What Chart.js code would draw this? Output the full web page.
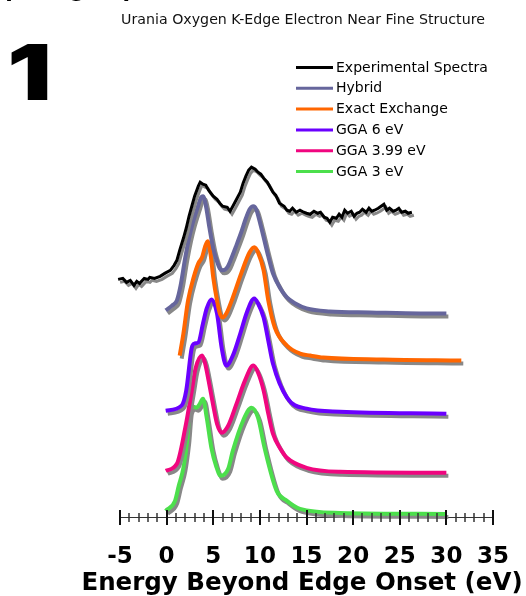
<!DOCTYPE html>
<html>
<head>
<meta charset="utf-8">
<script src="https://cdn.jsdelivr.net/npm/chart.js@4"></script>
<style>
  html, body { margin: 0; padding: 0; background: #fff; }
  canvas { display: block; }
</style>
</head>
<body>
<canvas id="myChart" width="526" height="596"></canvas>
<script>
// text
var topTitle = 'Comparing Experimental and Theoretical Results';
var subTitle = 'Urania Oxygen K-Edge Electron Near Fine Structure';
var energyLabel = 'Energy Beyond Edge Onset (eV)';
var panelNumber = '1';

var seriesNames = ['Experimental Spectra', 'Hybrid', 'Exact Exchange', 'GGA 6 eV', 'GGA 3.99 eV', 'GGA 3 eV'];
var seriesColors = ['#000000', '#66669c', '#ff6600', '#6a00ff', '#f0067f', '#4cdf4c'];
var majorTicks = [-5, 0, 5, 10, 15, 20, 25, 30, 35];

// energy (eV) and offset intensity
var expX = [-5.2, -4.7, -4.3, -3.9, -3.5, -3.2, -2.9, -2.4, -2.0, -1.8,
  -1.3, -0.7, -0.2, 0.4, 0.8, 1.1, 1.4, 1.8, 2.1, 2.4,
  2.7, 3.0, 3.4, 3.6, 3.9, 4.2, 4.5, 5.0, 5.4, 5.7,
  6.0, 6.5, 6.8, 7.1, 7.5, 7.9, 8.2, 8.5, 8.8, 9.1,
  9.5, 9.8, 10.1, 10.4, 10.8, 11.1, 11.4, 11.7, 12.1, 12.6,
  12.9, 13.2, 13.5, 13.9, 14.3, 14.7, 15.0, 15.4, 15.8, 16.2,
  16.5, 16.9, 17.2, 17.5, 17.8, 18.2, 18.5, 18.8, 19.1, 19.4,
  19.8, 20.1, 20.4, 20.7, 21.0, 21.4, 21.7, 22.0, 22.3, 22.7,
  23.0, 23.3, 23.6, 23.9, 24.3, 24.6, 24.9, 25.2, 25.6, 25.9,
  26.3];
var expY = [24.1, 24.2, 23.8, 24.0, 23.5, 23.9, 23.7, 24.2, 24.1, 24.3,
  24.2, 24.4, 24.7, 25.0, 25.5, 26.0, 27.0, 28.2, 29.2, 30.4,
  31.4, 32.4, 33.4, 33.8, 33.6, 33.5, 33.0, 32.4, 32.1, 31.7,
  31.4, 31.3, 30.9, 31.4, 32.1, 32.8, 33.7, 34.4, 35.0, 35.3,
  35.1, 34.8, 34.6, 34.2, 33.8, 33.3, 32.8, 32.5, 31.7, 31.4,
  31.0, 30.9, 31.2, 30.8, 31.0, 30.8, 30.7, 30.6, 30.9, 30.7,
  30.8, 30.3, 30.2, 29.8, 30.3, 30.2, 30.6, 30.3, 31.0, 30.7,
  30.9, 30.4, 30.7, 30.8, 31.1, 30.8, 31.2, 30.9, 31.0, 31.2,
  31.4, 31.6, 31.0, 31.2, 30.9, 31.0, 31.2, 30.8, 30.9, 30.7,
  30.8];

var hybX = [-0.1, 0.6, 1.1, 1.5, 2.0, 2.4, 2.8, 3.3, 3.7, 3.9, 4.2, 4.6, 5.0, 5.4, 5.7, 6.0, 6.5, 6.9,
  7.4, 8.0, 8.5, 8.9, 9.3, 9.6, 10.0, 10.4, 10.9, 11.4, 12.2, 12.9, 13.8, 15.0, 17.5, 21.8, 27.2, 30.0];
var hybY = [21.0, 21.5, 22.0, 23.5, 26.3, 28.2, 29.7, 31.2, 32.3, 32.4, 31.5, 29.2, 27.2, 25.9, 25.2, 25.0, 25.3, 26.1,
  27.3, 28.8, 30.2, 31.1, 31.4, 31.1, 29.8, 28.3, 26.4, 24.7, 23.2, 22.3, 21.7, 21.2, 20.9, 20.8, 20.7, 20.7];

var exX = [1.4, 1.8, 2.3, 2.9, 3.4, 3.8, 4.1, 4.4, 4.7, 5.0, 5.4, 5.7, 6.0, 6.4,
  7.1, 8.0, 8.9, 9.4, 9.8, 10.4, 10.9, 11.6, 12.9, 14.3, 15.4, 16.8, 23.2, 31.6];
var exY = [16.5, 18.7, 22.0, 24.3, 25.7, 26.3, 27.3, 27.9, 26.7, 24.3, 22.0, 20.7, 20.3, 20.7,
  22.3, 24.7, 26.8, 27.3, 26.8, 25.0, 22.0, 19.3, 17.5, 16.7, 16.5, 16.3, 16.1, 16.0];

var g6X = [-0.1, 1.6, 2.1, 2.7, 3.0, 3.4, 3.9, 4.3, 4.8, 5.4, 5.9, 6.4,
  7.1, 7.9, 8.6, 9.4, 9.8, 10.4, 10.9, 11.4, 12.9, 15.0, 18.6, 30.0];
var g6Y = [11.0, 11.5, 13.0, 17.3, 17.7, 17.8, 19.7, 21.2, 22.1, 20.7, 17.3, 15.5,
  16.5, 18.7, 20.8, 22.2, 21.7, 20.3, 18.0, 15.7, 12.3, 11.2, 10.9, 10.7];

var g4X = [-0.1, 1.1, 2.0, 2.7, 3.1, 3.8, 4.1, 4.5, 5.0, 5.4, 5.9, 6.6,
  7.5, 8.4, 9.3, 9.8, 10.4, 10.9, 11.4, 12.2, 12.9, 15.0, 18.6, 30.0];
var g4Y = [5.0, 5.7, 9.3, 13.0, 15.2, 16.5, 15.8, 14.0, 11.5, 9.7, 8.8, 9.5,
  11.7, 14.0, 15.5, 14.8, 13.0, 10.7, 8.7, 7.2, 6.3, 5.3, 4.9, 4.8];

var g3X = [-0.1, 0.9, 1.3, 1.8, 2.2, 2.5, 2.9, 3.2, 3.5, 3.9, 4.3, 4.8, 5.3,
  5.8, 6.6, 7.1, 8.2, 9.1, 9.8, 10.5, 11.8, 12.9, 14.3, 18.6, 30.0];
var g3Y = [1.0, 2.0, 3.5, 5.3, 8.0, 11.0, 11.4, 11.3, 11.6, 12.2, 10.3, 7.3, 5.5,
  4.5, 5.2, 7.0, 10.0, 11.3, 10.3, 7.3, 3.0, 2.0, 1.2, 0.8, 0.7];

var allX = [expX, hybX, exX, g6X, g4X, g3X];
var allY = [expY, hybY, exY, g6Y, g4Y, g3Y];

var datasets = seriesNames.map(function (name, i) {
  return {
    label: name,
    data: allX[i].map(function (x, j) { return {x: x, y: allY[i][j]}; }),
    borderColor: seriesColors[i],
    borderWidth: i === 0 ? 3 : 4,
    pointRadius: 0,
    tension: i === 0 ? 0 : 0.4,
    cubicInterpolationMode: i === 0 ? 'default' : 'monotone',
    clip: false
  };
});

// grey drop shadow under each line, ticks across the axis, legend and headings
var decor = {
  id: 'decor',
  beforeDatasetDraw: function (chart) {
    var ctx = chart.ctx;
    ctx.save();
    ctx.shadowColor = '#888888';
    ctx.shadowOffsetX = 2;
    ctx.shadowOffsetY = 3;
    ctx.shadowBlur = 0;
  },
  afterDatasetDraw: function (chart) {
    chart.ctx.restore();
  },
  afterDraw: function (chart) {
    var ctx = chart.ctx;
    var sc = chart.scales.x;
    var axisY = chart.chartArea.bottom;
    ctx.save();

    sc.ticks.forEach(function (t) {
      var px = Math.round(sc.getPixelForValue(t.value));
      var major = majorTicks.indexOf(t.value) >= 0;
      ctx.strokeStyle = major ? '#111' : '#333';
      ctx.lineWidth = major ? 2 : 1.5;
      ctx.beginPath();
      ctx.moveTo(px, axisY - (major ? 8 : 5));
      ctx.lineTo(px, axisY + (major ? 7 : 4));
      ctx.stroke();
    });

    // axis title, wider than the axis itself
    ctx.font = 'bold 24.5px "DejaVu Sans"';
    ctx.fillStyle = '#000';
    ctx.textAlign = 'center';
    ctx.textBaseline = 'middle';
    ctx.fillText(energyLabel, 302, 584);

    // legend
    ctx.font = '14px "DejaVu Sans"';
    ctx.textAlign = 'left';
    chart.data.datasets.forEach(function (ds, i) {
      var y = 67.5 + i * 20.8;
      ctx.strokeStyle = ds.borderColor;
      ctx.lineWidth = 3;
      ctx.beginPath();
      ctx.moveTo(296, y);
      ctx.lineTo(333, y);
      ctx.stroke();
      ctx.fillStyle = '#000';
      ctx.fillText(ds.label, 336, y + 0.5);
    });

    // subtitle
    ctx.font = '14.2px "DejaVu Sans"';
    ctx.textAlign = 'center';
    ctx.fillStyle = '#111';
    ctx.fillText(subTitle, 303, 20.5);

    // title mostly cut off at the top edge
    ctx.textAlign = 'left';
    ctx.textBaseline = 'alphabetic';
    ctx.font = 'bold 22px "DejaVu Sans"';
    ctx.fillStyle = '#000';
    ctx.fillText(topTitle, -49, -3);

    // big panel number
    ctx.font = '900 80px Inter, "Liberation Sans", sans-serif';
    var m = ctx.measureText(panelNumber);
    var inkW = m.actualBoundingBoxLeft + m.actualBoundingBoxRight;
    var inkH = m.actualBoundingBoxAscent + m.actualBoundingBoxDescent;
    ctx.translate(11, 44);
    ctx.scale(37 / inkW, 56 / inkH);
    ctx.fillText(panelNumber, m.actualBoundingBoxLeft, m.actualBoundingBoxAscent);

    ctx.restore();
  }
};

Chart.defaults.font.family = 'DejaVu Sans';
Chart.defaults.color = '#000';

new Chart('myChart', {
  type: 'line',
  data: {datasets: datasets},
  options: {
    responsive: false,
    animation: false,
    devicePixelRatio: 1,
    layout: {padding: {top: 100, left: 120, right: 33, bottom: 0}},
    plugins: {
      legend: {display: false},
      tooltip: {enabled: false}
    },
    scales: {
      x: {
        type: 'linear',
        min: -5,
        max: 35,
        grid: {display: false, drawTicks: false},
        border: {display: true, color: '#333', width: 1},
        ticks: {
          stepSize: 1,
          maxTicksLimit: 41,
          autoSkip: false,
          maxRotation: 0,
          padding: 8,
          color: '#000',
          font: {size: 23, weight: 'bold', lineHeight: 2.7},
          callback: function (v) { return majorTicks.indexOf(v) >= 0 ? String(v) : ''; }
        },
        title: {display: false}
      },
      y: {display: false, min: 0.3, max: 42}
    }
  },
  plugins: [decor]
});
</script>
</body>
</html>
